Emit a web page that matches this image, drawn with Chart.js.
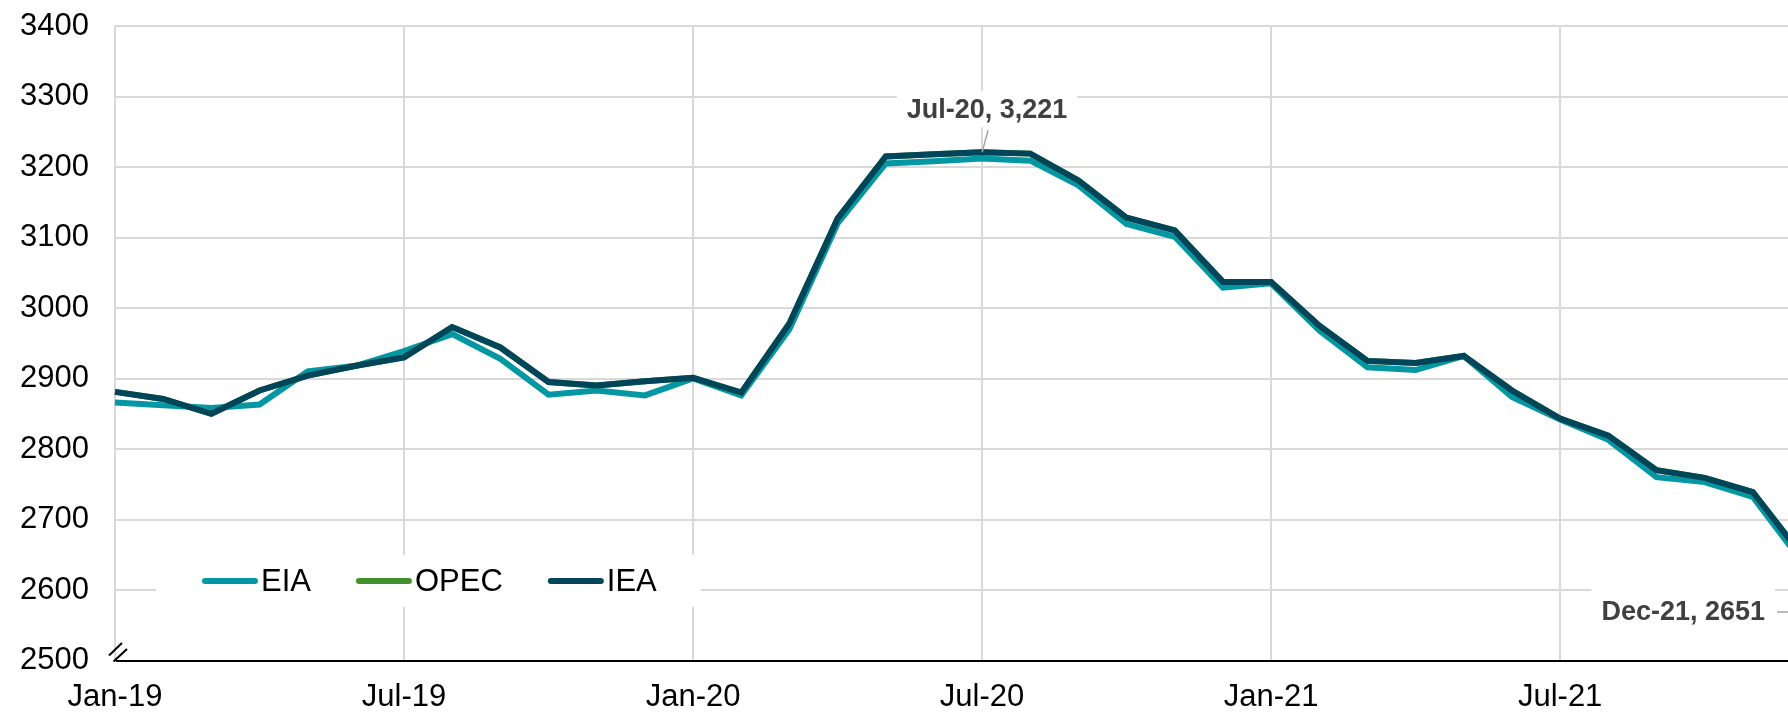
<!DOCTYPE html>
<html>
<head>
<meta charset="utf-8">
<script src="https://cdn.jsdelivr.net/npm/chart.js@4.4.1/dist/chart.umd.min.js"></script>
<style>
  html, body { margin: 0; padding: 0; background: #ffffff; overflow: hidden; }
  #wrap { position: relative; width: 1801px; height: 713px; }
</style>
</head>
<body>
<div id="wrap"><canvas id="c"></canvas></div>
<script>
const categories = [
  'Jan-19','Feb-19','Mar-19','Apr-19','May-19','Jun-19','Jul-19','Aug-19','Sep-19','Oct-19','Nov-19','Dec-19',
  'Jan-20','Feb-20','Mar-20','Apr-20','May-20','Jun-20','Jul-20','Aug-20','Sep-20','Oct-20','Nov-20','Dec-20',
  'Jan-21','Feb-21','Mar-21','Apr-21','May-21','Jun-21','Jul-21','Aug-21','Sep-21','Oct-21','Nov-21','Dec-21'
];
const eiaValues = [
  2866, 2862, 2858, 2863, 2910, 2918, 2939, 2963, 2928, 2877, 2883, 2876,
  2900, 2876, 2970, 3120, 3205, 3208, 3212, 3209, 3174, 3119, 3101, 3029,
  3035, 2968, 2916, 2912, 2932, 2874, 2842, 2813, 2760, 2753, 2732, 2642
];
const opecValues = [
  2881, 2871, 2850, 2883, 2904, 2918, 2930, 2973, 2944, 2895, 2890, 2896,
  2901, 2880, 2978, 3127, 3215, 3218, 3221, 3219, 3181, 3128, 3110, 3037,
  3037, 2975, 2925, 2922, 2932, 2883, 2843, 2819, 2770, 2759, 2739, 2651
];
const ieaValues = [
  2881, 2871, 2850, 2883, 2904, 2918, 2930, 2973, 2944, 2895, 2890, 2896,
  2901, 2880, 2978, 3127, 3215, 3218, 3221, 3219, 3181, 3128, 3110, 3037,
  3037, 2975, 2925, 2922, 2932, 2883, 2843, 2819, 2770, 2759, 2739, 2651
];
const seriesNames = ['EIA', 'OPEC', 'IEA'];
const seriesColors = ['#0397A3', '#43902F', '#01455B'];
const yMin = 2500, yMax = 3400, yStep = 100;
const tickMonths = ['Jan', 'Jul'];
const peakIndex = 18;
const lastIndex = 35;

const FONT = "'Liberation Sans', Arial, sans-serif";
const GRID = '#d9d9d9';

const extras = {
  id: 'extras',
  afterDraw(chart) {
    const ctx = chart.ctx;
    const ca = chart.chartArea;
    const xs = chart.scales.x, ys = chart.scales.y;
    ctx.save();

    // axis break marks
    ctx.strokeStyle = '#000';
    ctx.lineWidth = 2;
    ctx.beginPath();
    ctx.moveTo(ca.left - 6, ca.bottom - 5);
    ctx.lineTo(ca.left + 7, ca.bottom - 17.5);
    ctx.moveTo(ca.left - 1.5, ca.bottom + 1);
    ctx.lineTo(ca.left + 12, ca.bottom - 11.5);
    ctx.stroke();

    // legend
    ctx.fillStyle = '#fff';
    ctx.fillRect(156, 555, 545, 52);
    ctx.font = '31px ' + FONT;
    ctx.textBaseline = 'middle';
    ctx.textAlign = 'left';
    let x = 202;
    const ly = 581;
    chart.data.datasets.forEach(ds => {
      ctx.strokeStyle = ds.borderColor;
      ctx.lineWidth = 6;
      ctx.lineCap = 'round';
      ctx.beginPath();
      ctx.moveTo(x + 3, ly);
      ctx.lineTo(x + 53, ly);
      ctx.stroke();
      ctx.fillStyle = '#000';
      ctx.fillText(ds.label, x + 59, ly + 1);
      x = x + 59 + ctx.measureText(ds.label).width + 45;
    });

    // annotations
    ctx.lineCap = 'butt';
    ctx.font = 'bold 27px ' + FONT;
    // peak
    {
      const px = xs.getPixelForValue(peakIndex);
      const py = ys.getPixelForValue(ieaValues[peakIndex]);
      const txt = categories[peakIndex] + ', ' + ieaValues[peakIndex].toLocaleString('en-US');
      const w = ctx.measureText(txt).width;
      const cx = px + 5, cy = py - 43;
      ctx.fillStyle = '#fff';
      ctx.fillRect(cx - w / 2 - 10, cy - 18, w + 20, 36);
      ctx.strokeStyle = '#a6a6a6';
      ctx.lineWidth = 1.5;
      ctx.beginPath();
      ctx.moveTo(px + 6, py - 22);
      ctx.lineTo(px, py);
      ctx.stroke();
      ctx.fillStyle = '#404040';
      ctx.textAlign = 'center';
      ctx.fillText(txt, cx, cy + 1);
    }
    // last
    {
      const px = xs.getPixelForValue(lastIndex);
      const py = ys.getPixelForValue(ieaValues[lastIndex]);
      const txt = categories[lastIndex] + ', ' + String(ieaValues[lastIndex]);
      const w = ctx.measureText(txt).width;
      const rx = px - 36, cy = py + 58;
      ctx.fillStyle = '#fff';
      ctx.fillRect(rx - w - 10, cy - 23, w + 20, 46);
      ctx.strokeStyle = '#a6a6a6';
      ctx.lineWidth = 1.5;
      ctx.beginPath();
      ctx.moveTo(rx + 12, cy);
      ctx.lineTo(px, cy);
      ctx.lineTo(px, py);
      ctx.stroke();
      ctx.fillStyle = '#404040';
      ctx.textAlign = 'right';
      ctx.fillText(txt, rx, cy + 1);
    }
    ctx.restore();
  }
};

const valueSets = [eiaValues, opecValues, ieaValues];
const orders = [3, 2, 1];

const chart = new Chart(document.getElementById('c'), {
  type: 'line',
  data: {
    labels: categories,
    datasets: seriesNames.map((n, i) => ({
      label: n,
      data: valueSets[i],
      borderColor: seriesColors[i],
      backgroundColor: seriesColors[i],
      borderWidth: 6,
      pointRadius: 0,
      tension: 0,
      fill: false,
      order: orders[i]
    }))
  },
  options: {
    responsive: true,
    maintainAspectRatio: false,
    devicePixelRatio: 1,
    animation: false,
    layout: { padding: 0 },
    plugins: { legend: { display: false }, tooltip: { enabled: false } },
    scales: {
      x: {
        type: 'category',
        offset: false,
        afterFit(s) { s.height = 52.5; s.paddingRight = 0; s.paddingLeft = 0; },
        border: { display: true, color: '#000', width: 2 },
        grid: {
          drawTicks: false,
          lineWidth: 2,
          color: (c) => {
            const l = categories[c.index] || '';
            return tickMonths.includes(l.slice(0, 3)) ? GRID : 'rgba(0,0,0,0)';
          }
        },
        ticks: {
          autoSkip: false,
          maxRotation: 0,
          minRotation: 0,
          padding: 18,
          color: '#000',
          font: { family: FONT, size: 31 },
          callback: (v, i) => tickMonths.includes(categories[i].slice(0, 3)) ? categories[i] : ''
        }
      },
      y: {
        min: yMin,
        max: yMax,
        afterFit(s) { s.width = 115; s.paddingTop = 26; s.paddingBottom = 0; },
        border: { display: true, color: GRID, width: 2 },
        grid: { drawTicks: false, lineWidth: 2, color: GRID },
        ticks: {
          stepSize: yStep,
          padding: 26,
          color: '#000',
          font: { family: FONT, size: 31 },
          callback: (v) => String(v)
        }
      }
    }
  },
  plugins: [extras]
});

// make sure the last month lands just past the visible window edge
const wantRight = 1801;
const diff = wantRight - chart.chartArea.right;
if (Math.abs(diff) > 0.5) {
  const wrap = document.getElementById('wrap');
  wrap.style.width = (1801 + diff) + 'px';
  chart.resize();
}
</script>
</body>
</html>
